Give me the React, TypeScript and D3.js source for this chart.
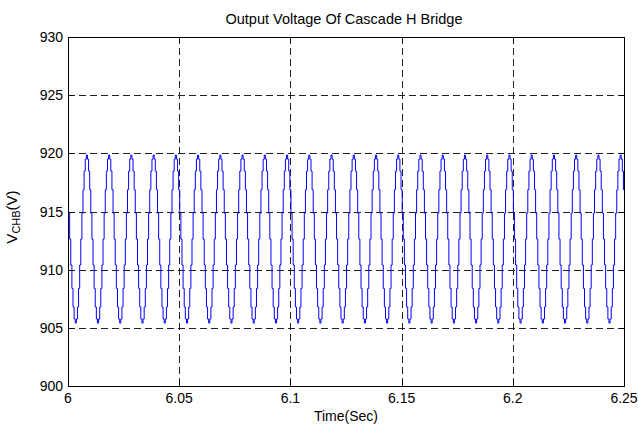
import React from "react";
import * as d3 from "d3";

const xTicks = [6, 6.05, 6.1, 6.15, 6.2, 6.25];
const yTicks = [900, 905, 910, 915, 920, 925, 930];
const xGrid = [6.05, 6.1, 6.15, 6.2];
const yGrid = [905, 910, 915, 920, 925];

// one measured cycle of the staircase waveform (V), starting at a peak, 0.5 ms per step
const cycleVoltage = [
  919.85, 919.5, 918.47, 916.87, 914.86, 912.63, 910.4, 908.39, 906.79, 905.76,
  905.41, 905.76, 906.79, 908.39, 910.4, 912.63, 914.86, 916.87, 918.47, 919.5,
];
const firstPeakTime = 5.9985;
const period = 0.01;
const cycleCount = 27;

const W = 638;
const H = 425;
const M = { left: 68, right: 14, top: 37, bottom: 39 };

export default function App() {
  const x = d3.scaleLinear().domain([6, 6.25]).range([M.left, W - M.right]);
  const y = d3.scaleLinear().domain([900, 930]).range([H - M.bottom, M.top]);

  const step = period / cycleVoltage.length;
  const data: [number, number][] = [];
  for (let c = 0; c < cycleCount; c++) {
    cycleVoltage.forEach((v, k) => {
      data.push([firstPeakTime + c * period + k * step - step / 2, v]);
    });
  }
  const line = d3
    .line<[number, number]>()
    .x((d) => x(d[0]))
    .y((d) => y(d[1]))
    .curve(d3.curveStepAfter);

  const x0 = x(6), x1 = x(6.25), y0 = y(900), y1 = y(930);
  const font = "Liberation Sans, Arial, Helvetica, sans-serif";
  const tick = 5;

  return (
    <svg
      width={W}
      height={H}
      style={{ position: "absolute", left: 0, top: 0, background: "#fff" }}
      fontFamily={font}
    >
      <defs>
        <clipPath id="plotclip">
          <rect x={x0} y={y1} width={x1 - x0} height={y0 - y1} />
        </clipPath>
      </defs>
      <rect x={0} y={0} width={W} height={H} fill="#fff" />
      {/* grid */}
      {yGrid.map((v) => (
        <line key={"gy" + v} x1={x0} x2={x1} y1={Math.round(y(v)) + 0.5} y2={Math.round(y(v)) + 0.5}
          stroke="#222" strokeWidth={1} strokeDasharray="7,4" />
      ))}
      {xGrid.map((v) => (
        <line key={"gx" + v} y1={y1} y2={y0} x1={Math.round(x(v)) + 0.5} x2={Math.round(x(v)) + 0.5}
          stroke="#222" strokeWidth={1} strokeDasharray="7,4" />
      ))}
      {/* waveform */}
      <path d={line(data) || ""} fill="none" stroke="#0000ff" strokeWidth={1} clipPath="url(#plotclip)" />
      {/* box */}
      <rect x={Math.round(x0) + 0.5} y={Math.round(y1) + 0.5} width={Math.round(x1) - Math.round(x0)}
        height={Math.round(y0) - Math.round(y1)} fill="none" stroke="#000" strokeWidth={1} />
      {/* ticks */}
      {xTicks.map((v) => {
        const px = Math.round(x(v)) + 0.5;
        return (
          <g key={"xt" + v}>
            <line x1={px} x2={px} y1={y0} y2={y0 - tick} stroke="#000" />
            <line x1={px} x2={px} y1={y1} y2={y1 + tick} stroke="#000" />
            <text x={x(v)} y={403} textAnchor="middle" fontSize={14} fill="#000">{String(v)}</text>
          </g>
        );
      })}
      {yTicks.map((v) => {
        const py = Math.round(y(v)) + 0.5;
        return (
          <g key={"yt" + v}>
            <line x1={x0} x2={x0 + tick} y1={py} y2={py} stroke="#000" />
            <line x1={x1} x2={x1 - tick} y1={py} y2={py} stroke="#000" />
            <text x={63} y={y(v) + 5} textAnchor="end" fontSize={14} fill="#000">{v}</text>
          </g>
        );
      })}
      {/* title & labels */}
      <text x={(x0 + x1) / 2 - 2} y={24} textAnchor="middle" fontSize={14.5} fill="#000">
        Output Voltage Of Cascade H Bridge
      </text>
      <text x={(x0 + x1) / 2} y={421} textAnchor="middle" fontSize={14} fill="#000">Time(Sec)</text>
      <text transform="translate(17,217) rotate(-90)" textAnchor="middle" fontSize={15} fill="#000">
        V<tspan fontSize={11} dy={3}>CHB</tspan><tspan dy={-3}>(V)</tspan>
      </text>
    </svg>
  );
}
